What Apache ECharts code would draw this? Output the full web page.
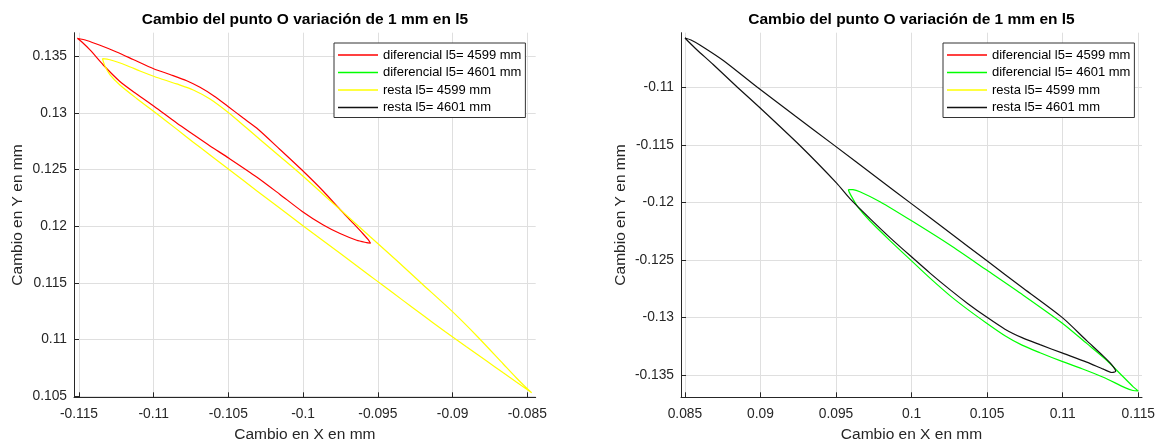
<!DOCTYPE html>
<html>
<head>
<meta charset="utf-8">
<title>Cambio del punto O</title>
<script src="https://cdn.jsdelivr.net/npm/echarts@6/dist/echarts.min.js"></script>
<style>
  html, body { margin: 0; padding: 0; background: #ffffff; }
  #chart { width: 1163px; height: 445px; }
</style>
</head>
<body>
<div id="chart"></div>
<script>
// Text
const chartTitle = 'Cambio del punto O variación de 1 mm en l5';
const xAxisName = 'Cambio en X en mm';
const yAxisName = 'Cambio en Y en mm';
const seriesNames = [
  'diferencial l5= 4599 mm',
  'diferencial l5= 4601 mm',
  'resta l5= 4599 mm',
  'resta l5= 4601 mm'
];

// Axis ranges (left panel, right panel)
const leftXRange = [-0.11533, -0.08444];
const leftYRange = [0.10491, 0.13708];
const rightXRange = [0.08474, 0.11525];
const rightYRange = [-0.13696, -0.10523];

// diferencial l5 = 4599 mm (closed loop: upper edge, then lower edge back)
const dif4599X = [-0.11511, -0.11448, -0.11359, -0.11248, -0.11137, -0.11000, -0.10891, -0.10779, -0.10690, -0.10597,
  -0.10498, -0.10403, -0.10311, -0.10155, -0.10006, -0.09865, -0.09753, -0.09664, -0.09598, -0.09563, -0.09549,
  -0.09575, -0.09642, -0.09753, -0.09865, -0.10006, -0.10155, -0.10311, -0.10496, -0.10623, -0.10735,
  -0.10846, -0.10996, -0.11114, -0.11226, -0.11337, -0.11426, -0.11480, -0.11511];
const dif4599Y = [0.13659, 0.13639, 0.13597, 0.13538, 0.13472, 0.13390, 0.13339, 0.13284, 0.13226, 0.13150,
  0.13053, 0.12957, 0.12867, 0.12678, 0.12494, 0.12309, 0.12148, 0.12025, 0.11932, 0.11879, 0.11850,
  0.11856, 0.11877, 0.11936, 0.12011, 0.12131, 0.12281, 0.12435, 0.12600, 0.12709, 0.12810,
  0.12911, 0.13057, 0.13167, 0.13278, 0.13423, 0.13556, 0.13626, 0.13659];

// diferencial l5 = 4601 mm (closed loop)
const dif4601X = [0.09581, 0.09612, 0.09658, 0.09791, 0.10011, 0.10254, 0.10497, 0.10739, 0.11000, 0.11159,
  0.11291, 0.11379, 0.11467, 0.11500,
  0.11465, 0.11412, 0.11269, 0.11128, 0.11000, 0.10850, 0.10731, 0.10618, 0.10497, 0.10373,
  0.10254, 0.10122, 0.10005, 0.09857, 0.09725, 0.09645, 0.09605, 0.09586, 0.09581];
const dif4601Y = [-0.11888, -0.11889, -0.11907, -0.11994, -0.12169, -0.12371, -0.12589, -0.12807, -0.13053, -0.13227,
  -0.13373, -0.13489, -0.13605, -0.13640,
  -0.13637, -0.13612, -0.13521, -0.13447, -0.13386, -0.13308, -0.13242, -0.13160, -0.13051, -0.12933,
  -0.12811, -0.12659, -0.12515, -0.12332, -0.12162, -0.12041, -0.11954, -0.11906, -0.11888];

// resta l5 = 4599 mm (closed loop)
const resta4599X = [-0.11343, -0.11293, -0.11181, -0.11092, -0.10996, -0.10846, -0.10735, -0.10623, -0.10501, -0.10378,
  -0.10289, -0.10155, -0.10006, -0.09865, -0.09753, -0.09653, -0.09553, -0.09374, -0.09207, -0.09006,
  -0.08828, -0.08661, -0.08576, -0.08509, -0.08471,
  -0.08504, -0.08576, -0.08661, -0.08772, -0.08910, -0.09051, -0.09207, -0.09330, -0.09474, -0.09553,
  -0.09753, -0.09988, -0.10155, -0.10311, -0.10496, -0.10623, -0.10735, -0.10846, -0.10996, -0.11114,
  -0.11226, -0.11293, -0.11326, -0.11343];
const resta4599Y = [0.13479, 0.13469, 0.13419, 0.13370, 0.13322, 0.13256, 0.13203, 0.13123, 0.13004, 0.12867,
  0.12766, 0.12616, 0.12448, 0.12281, 0.12148, 0.12029, 0.11910, 0.11698, 0.11495, 0.11253,
  0.11019, 0.10785, 0.10666, 0.10578, 0.10532,
  0.10563, 0.10628, 0.10707, 0.10811, 0.10939, 0.11072, 0.11223, 0.11344, 0.11486, 0.11564,
  0.11762, 0.11992, 0.12159, 0.12314, 0.12501, 0.12629, 0.12742, 0.12857, 0.13010, 0.13128,
  0.13247, 0.13339, 0.13414, 0.13479];

// resta l5 = 4601 mm (closed loop)
const resta4601X = [0.08500, 0.08540, 0.08599, 0.08754, 0.08975, 0.09228, 0.09482, 0.09791, 0.10005, 0.10254,
  0.10497, 0.10739, 0.11000, 0.11159, 0.11269, 0.11324, 0.11351,
  0.11326, 0.11269, 0.11159, 0.11000, 0.10850, 0.10731, 0.10618, 0.10497, 0.10373, 0.10254,
  0.10122, 0.10005, 0.09857, 0.09725, 0.09592, 0.09504, 0.09261, 0.08991, 0.08842, 0.08687,
  0.08577, 0.08526, 0.08500];
const resta4601Y = [-0.10569, -0.10586, -0.10630, -0.10765, -0.10994, -0.11246, -0.11497, -0.11805, -0.12017, -0.12264,
  -0.12506, -0.12747, -0.13005, -0.13203, -0.13338, -0.13412, -0.13469,
  -0.13480, -0.13451, -0.13390, -0.13312, -0.13238, -0.13177, -0.13103, -0.12998, -0.12881, -0.12759,
  -0.12615, -0.12480, -0.12306, -0.12141, -0.11967, -0.11832, -0.11505, -0.11170, -0.10991, -0.10800,
  -0.10669, -0.10604, -0.10569];

const seriesColors = ['#ff0000', '#00ff00', '#ffff00', '#111111'];

const FONT = '"Liberation Sans", Arial, Helvetica, sans-serif';
const AXIS_COLOR = '#262626';
const GRID_COLOR = '#dfdfdf';

function pairs(xs, ys) {
  return xs.map((x, i) => [x, ys[i]]);
}

function xAxisFor(gridIndex, range) {
  return {
    type: 'value',
    gridIndex: gridIndex,
    min: range[0],
    max: range[1],
    splitNumber: 6,
    position: 'bottom',
    name: xAxisName,
    nameLocation: 'middle',
    nameGap: 29,
    nameTextStyle: { fontFamily: FONT, fontSize: 15.5, color: AXIS_COLOR },
    axisLine: { show: true, onZero: false, lineStyle: { color: AXIS_COLOR, width: 1 } },
    axisTick: { show: true, inside: true, length: 5, lineStyle: { color: AXIS_COLOR, width: 1 } },
    axisLabel: {
      show: true, margin: 10, fontFamily: FONT, fontSize: 13.8, color: AXIS_COLOR,
      showMinLabel: false, showMaxLabel: false
    },
    splitLine: { show: true, showMinLine: false, showMaxLine: false, lineStyle: { color: GRID_COLOR, width: 1 } }
  };
}

function yAxisFor(gridIndex, range, nameGap) {
  return {
    type: 'value',
    gridIndex: gridIndex,
    min: range[0],
    max: range[1],
    splitNumber: 6,
    position: 'left',
    name: yAxisName,
    nameLocation: 'middle',
    nameGap: nameGap,
    nameTextStyle: { fontFamily: FONT, fontSize: 15.5, color: AXIS_COLOR },
    axisLine: { show: true, onZero: false, lineStyle: { color: AXIS_COLOR, width: 1 } },
    axisTick: { show: true, inside: true, length: 5, lineStyle: { color: AXIS_COLOR, width: 1 } },
    axisLabel: {
      show: true, margin: 7, fontFamily: FONT, fontSize: 13.8, color: AXIS_COLOR,
      showMinLabel: false, showMaxLabel: false
    },
    splitLine: { show: true, showMinLine: false, showMaxLine: false, lineStyle: { color: GRID_COLOR, width: 1 } }
  };
}

function titleFor(centerX) {
  return {
    text: chartTitle,
    left: centerX,
    top: 12,
    textAlign: 'center',
    padding: 0,
    textStyle: { fontFamily: FONT, fontSize: 15.5, fontWeight: 'bold', color: '#000000' }
  };
}

function legendFor(left) {
  return {
    data: seriesNames,
    orient: 'vertical',
    left: left,
    top: 43,
    icon: 'rect',
    itemWidth: 40,
    itemHeight: 1.5,
    itemGap: 3.5,
    padding: [5, 4, 3, 4],
    backgroundColor: '#ffffff',
    borderColor: '#333333',
    borderWidth: 1,
    borderRadius: 0,
    selectedMode: false,
    itemStyle: { borderWidth: 0 },
    textStyle: { fontFamily: FONT, fontSize: 13, lineHeight: 14, color: '#000000' }
  };
}

function loopSeries(nameIndex, axisIndex, xs, ys) {
  return {
    name: seriesNames[nameIndex],
    type: 'line',
    xAxisIndex: axisIndex,
    yAxisIndex: axisIndex,
    data: pairs(xs, ys),
    symbol: 'none',
    smooth: 0.25,
    color: seriesColors[nameIndex],
    lineStyle: { color: seriesColors[nameIndex], width: 1.2 },
    silent: true
  };
}

const chart = echarts.init(document.getElementById('chart'), null, { renderer: 'canvas' });

chart.setOption({
  backgroundColor: '#ffffff',
  animation: false,
  title: [titleFor(304.9), titleFor(911.5)],
  legend: [legendFor(334), legendFor(943)],
  grid: [
    { left: 74, top: 32.7, width: 461.7, height: 364.6, containLabel: false, outerBoundsMode: 'none' },
    { left: 681, top: 32.7, width: 461, height: 364.6, containLabel: false, outerBoundsMode: 'none' }
  ],
  xAxis: [xAxisFor(0, leftXRange), xAxisFor(1, rightXRange)],
  yAxis: [yAxisFor(0, leftYRange, 48), yAxisFor(1, rightYRange, 52.5)],
  series: [
    loopSeries(0, 0, dif4599X, dif4599Y),
    loopSeries(2, 0, resta4599X, resta4599Y),
    loopSeries(1, 1, dif4601X, dif4601Y),
    loopSeries(3, 1, resta4601X, resta4601Y)
  ]
});
</script>
</body>
</html>
